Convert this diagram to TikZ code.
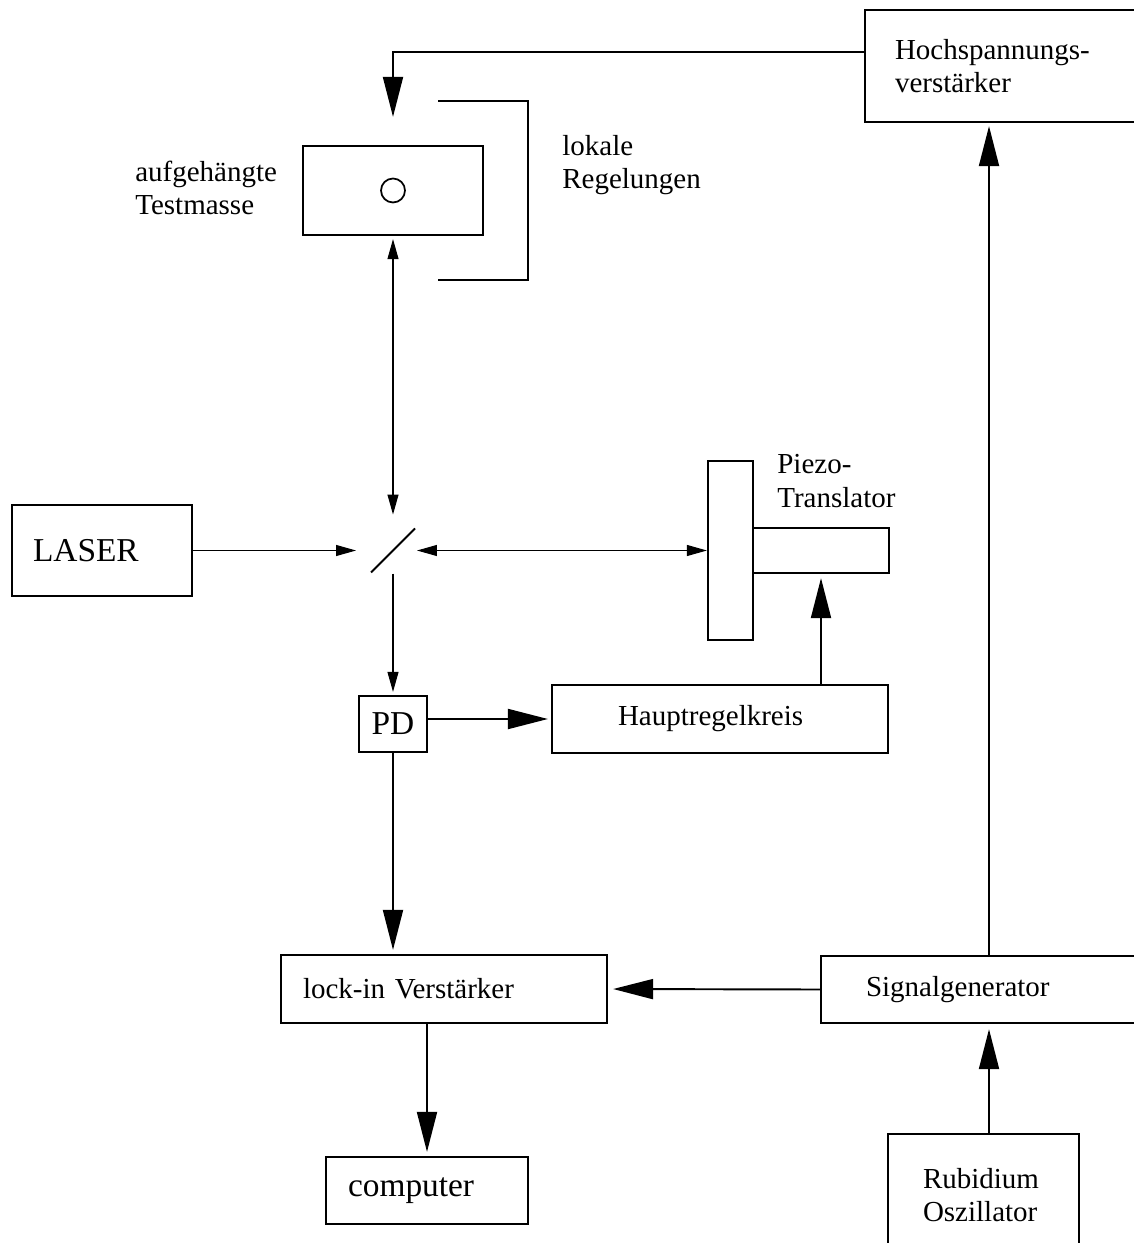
\documentclass[tikz,border=0pt]{standalone}
\usepackage{fontspec}
\setmainfont{Liberation Serif}
\usetikzlibrary{arrows.meta, positioning}
\newcommand{\textnorm}{\fontsize{16.5}{19}\selectfont}
\newcommand{\textbig}{\fontsize{19}{22}\selectfont}

\begin{document}
\begin{tikzpicture}[
  x=0.02cm, y=-0.02cm,
  block/.style={draw, line width=1.3pt, inner ysep=0pt, align=left, font=\textnorm},
  side_label/.style={anchor=west, align=left, inner sep=0pt, font=\textnorm},
  thin_arrow/.style={line width=0.6pt, -{Triangle[length=0.4cm, width=0.22cm]}},
  thin_both/.style={line width=0.6pt, {Triangle[length=0.4cm, width=0.22cm]}-{Triangle[length=0.4cm, width=0.22cm]}},
  thick_arrow/.style={line width=1.1pt, -{Triangle[length=0.8cm, width=0.4cm]}}
]
\useasboundingbox (0,0) rectangle (1133,1243);
% boxes
\node[block, minimum width=5.9cm, minimum height=2.24cm, inner xsep=0.6cm, text width=4.7cm] (hv) at (1012.5,66) {Hochspannungs-\\verstärker};
\node[block, minimum width=3.6cm, minimum height=1.78cm] (tm) at (393,190.5) {};
\node[draw, circle, line width=1pt, minimum size=0.48cm, inner sep=0pt] (mass) at (tm.center) {};
\node[block, minimum width=3.6cm, minimum height=1.82cm, inner xsep=0.42cm, text width=2.76cm, font=\textbig] (laser) at (102,550.5) {LASER};
\node[block, minimum width=0.9cm, minimum height=3.58cm, inner sep=0pt] (plate) at (730.5,550.5) {};
\node[block, minimum width=2.72cm, minimum height=0.9cm, inner sep=0pt] (rod) at (821,550.5) {};
\node[block, minimum width=1.36cm, minimum height=1.12cm, inner xsep=0pt, align=center, font=\textbig] (pd) at (393,724) {PD};
\node[block, minimum width=6.72cm, minimum height=1.36cm, inner xsep=1.32cm, text width=4.08cm] (hr) at (720,719) {Hauptregelkreis};
\node[block, minimum width=6.52cm, minimum height=1.36cm, inner xsep=0.44cm, text width=5.64cm] (li) at (444,989) {lock-in Verstärker};
\node[block, minimum width=6.72cm, minimum height=1.34cm, inner xsep=0.9cm, text width=4.92cm] (sg) at (989,989.5) {Signalgenerator};
\node[block, minimum width=4.04cm, minimum height=1.34cm, inner xsep=0.44cm, text width=3.16cm, font=\textbig] (cp) at (427,1190.5) {computer};
\node[block, minimum width=3.82cm, minimum height=2.44cm, inner xsep=0.7cm, text width=2.42cm] (rb) at (983.5,1195) {Rubidium\\Oszillator};
% labels
\node[side_label] (tm_label) at (135,188) {aufgehängte\\Testmasse};
\node[side_label] (lr_label) at (562,165) {lokale\\Regelungen};
\node[side_label] (pz_label) at (777,481) {Piezo-\\Translator};
% beam splitter and local control bracket
\coordinate (bs) at (393,550.5);
\draw[line width=1.1pt] ([shift={(-22,22)}]bs) -- ([shift={(22,-22)}]bs);
\draw[line width=1.1pt] (438,101) -| (528,280) -- (438,280);
% connectors
\draw[thick_arrow, shorten >=0.56cm] ([yshift=0.28cm]hv.west) -| (tm.north);
\draw[thin_both, shorten <=0.06cm, shorten >=0.72cm] (tm.south) -- (bs);
\draw[thin_arrow, shorten >=0.74cm] (laser.east) -- (bs);
\draw[thin_both, shorten <=0.48cm] (bs) -- (plate.west);
\draw[thin_arrow, shorten <=0.46cm, shorten >=0.06cm] (bs) -- (pd.north);
\draw[thick_arrow, shorten >=0.06cm] (pd.east |- hr.west) -- (hr.west);
\draw[thick_arrow, shorten >=0.08cm] (rod.south |- hr.north) -- (rod.south);
\draw[thick_arrow, shorten >=0.08cm] (pd.south) -- (pd.south |- li.north);
\draw[thick_arrow, shorten >=0.1cm] (sg.west) -- (li.east);
\draw[thick_arrow, shorten >=0.06cm] (sg.north) -- (sg.north |- hv.south);
\draw[thick_arrow, shorten >=0.1cm] (sg.south |- rb.north) -- (sg.south);
\draw[thick_arrow, shorten >=0.08cm] (cp.north |- li.south) -- (cp.north);
\end{tikzpicture}
\end{document}
